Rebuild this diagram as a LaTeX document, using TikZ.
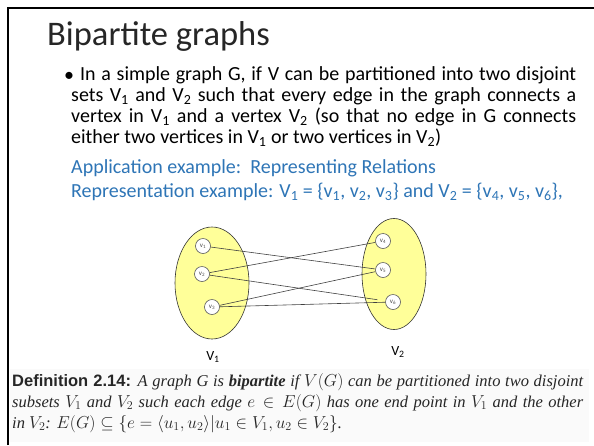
\documentclass[tikz,border=0pt]{standalone}
\usepackage{amsmath,amssymb}
\usepackage{fontspec}
\setmainfont{Carlito}
\newfontfamily\defserif{Liberation Serif}
\newfontfamily\defsans{Liberation Sans}
\usepackage{tikz}
\usetikzlibrary{positioning, shapes.geometric}
\definecolor{slideblue}{RGB}{46,117,182}
\definecolor{setyellow}{RGB}{255,255,153}
\tikzset{
  titletxt/.style={inner sep=0pt, text=black!85, font=\fontsize{34.5}{38}\selectfont},
  bodytxt/.style={inner sep=0pt, font=\fontsize{20}{21}\selectfont},
  bluetxt/.style={bodytxt, text=slideblue},
  setell/.style={ellipse, draw=black!80, fill=setyellow, line width=0.6pt,
                 inner sep=0pt},
  vtx/.style={circle, draw=black!65, fill=white, line width=0.6pt,
              inner sep=0pt, minimum size=15pt, text=black!70,
              font=\fontsize{7}{7}\selectfont},
  edge/.style={draw=black!75, line width=0.6pt},
  setlbl/.style={inner sep=0pt, font=\fontsize{14}{14}\selectfont},
  deftxt/.style={inner sep=0pt, text width=571pt, align=justify, text=black!85,
                 font=\defserif\itshape\fontsize{16.5}{21}\selectfont}
}
\begin{document}
\begin{tikzpicture}[x=1pt, y=-1pt]
  \useasboundingbox (0,0) rectangle (594,445);
  % slide frame
  \draw[line width=2.5pt] (8,445) -- (8,8) -- (594,8);
  \node[titletxt, anchor=base west] (title) at (47,45) {Bipartite graphs};
  \node[bodytxt, anchor=base west] (bul) at (64,81) {\textbullet};
  \node[bodytxt, anchor=north west, text width=505pt, align=justify] (def) at (71,66)
    {\hspace*{9pt}In a simple graph G, if V can be partitioned into two disjoint\linebreak
     sets V\textsubscript{1} and V\textsubscript{2} such that every edge in the graph connects a\linebreak
     vertex in V\textsubscript{1} and a vertex V\textsubscript{2} (so that no edge in G connects\linebreak
     either two vertices in V\textsubscript{1} or two vertices in V\textsubscript{2})};
  \node[bluetxt, anchor=base west] (app) at (71,173)
    {Application example:\ \ Representing Relations};
  \node[bluetxt, anchor=base west] (rep) at (71,197)
    {Representation example: V\textsubscript{1} = \{v\textsubscript{1}, v\textsubscript{2}, v\textsubscript{3}\} and V\textsubscript{2} = \{v\textsubscript{4}, v\textsubscript{5}, v\textsubscript{6}\},};

  % the two vertex sets
  \node[setell, minimum width=74pt, minimum height=112pt] (left) at (212,283) {};
  \node[setell, minimum width=64pt, minimum height=111pt] (right) at (394,274) {};
  \foreach \i/\x/\y in {1/203/246, 2/202/274, 3/212/307, 4/383/241, 5/383/270, 6/393/302}
    \node[vtx] (v\i) at (\x,\y) {v\textsubscript{\i}};
  \foreach \a/\b in {1/5, 2/4, 3/5, 3/6}
    \draw[edge] (v\a) -- (v\b);
  \draw[edge, shorten >=8pt] (v2) -- (v6);
  \node[setlbl] (lblone) at (213,357) {V\textsubscript{1}};
  \node[setlbl] (lbltwo) at (398,352) {V\textsubscript{2}};

  % definition from the book
  \fill[gray!4] (10,369) rectangle (589,442);
  \node[deftxt, anchor=north west] (defn) at (12,373)
    {{\defsans\upshape\bfseries Definition 2.14:} A graph G is \textbf{bipartite} if $V(G)$ can be partitioned into two disjoint\linebreak
     subsets $V_1$ and $V_2$ such each edge $e \in E(G)$ has one end point in $V_1$ and the other\linebreak
     in $V_2$: $E(G) \subseteq \{e = \langle u_1, u_2\rangle | u_1 \in V_1, u_2 \in V_2\}$.};
\end{tikzpicture}
\end{document}
